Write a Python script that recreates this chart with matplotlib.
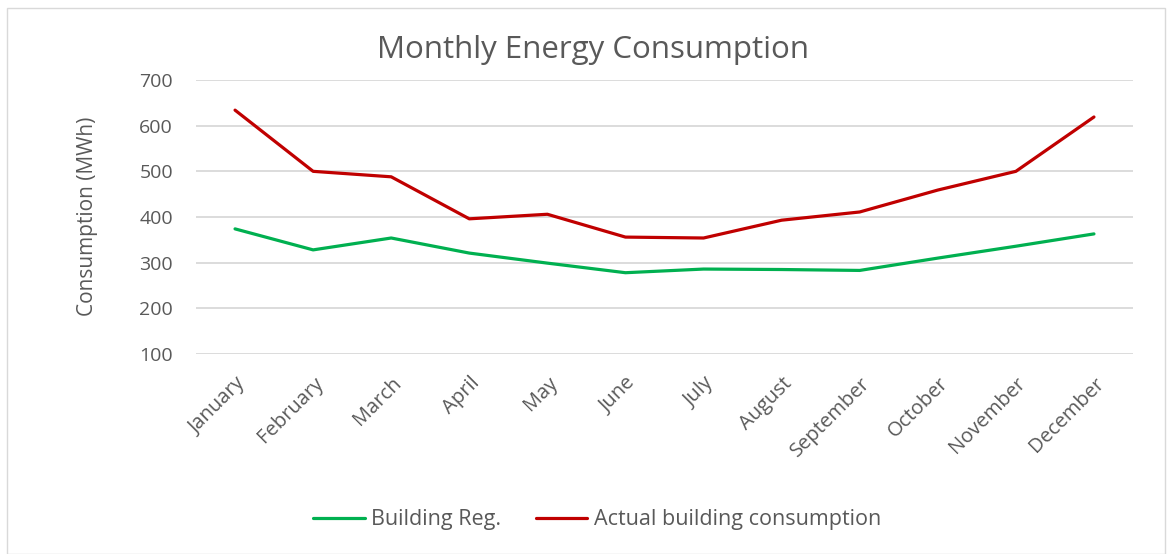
import matplotlib
matplotlib.use("Agg")
import matplotlib.pyplot as plt
from matplotlib.patches import Rectangle

months = ["January", "February", "March", "April", "May", "June", "July",
          "August", "September", "October", "November", "December"]
building_reg = [374, 328, 354, 321, 299, 278, 286, 285, 283, 310, 336, 363]
actual = [634, 500, 488, 396, 406, 356, 354, 393, 411, 459, 500, 619]
yticks = [100, 200, 300, 400, 500, 600, 700]

plt.rcParams['font.family'] = ['Open Sans', 'DejaVu Sans']
txt = '#595959'

fig = plt.figure(figsize=(11.72, 5.54), dpi=100)
fig.add_artist(Rectangle((7/1172, 0), 1158/1172, 1 - 8/554, transform=fig.transFigure,
                         fill=False, edgecolor='#d9d9d9', linewidth=1))
ax = fig.add_axes([196/1172, 1 - 354/554, (1133-196)/1172, (354-80)/554])

x = list(range(len(months)))
ax.plot(x, building_reg, color='#00B050', linewidth=2.3, label='Building Reg.',
        solid_capstyle='round')
ax.plot(x, actual, color='#C00000', linewidth=2.3, label='Actual building consumption',
        solid_capstyle='round')

ax.set_xlim(-0.5, len(months) - 0.5)
ax.set_ylim(100, 700)
ax.set_yticks(yticks)
ax.set_yticklabels([str(v) for v in yticks], fontsize=14, color=txt)
ax.set_xticks(x)
ax.set_xticklabels(months, rotation=45, ha='right', rotation_mode='anchor',
                   fontsize=14.5, color=txt)
for lbl in ax.get_xticklabels():
    lbl.set_x(lbl.get_position()[0])
ax.tick_params(axis='both', length=0)
ax.tick_params(axis='y', pad=16.5)
ax.tick_params(axis='x', pad=14)
ax.grid(axis='y', color='#d9d9d9', linewidth=1.3)
ax.set_axisbelow(True)
for s in ax.spines.values():
    s.set_visible(False)

fig.text(87/1172, 1 - 216/554, 'Consumption (MWh)', fontsize=15, color=txt,
         rotation=90, ha='center', va='center')
fig.text(593/1172, 1 - 50/554, 'Monthly Energy Consumption', fontsize=22.5, color=txt,
         ha='center', va='center')

fig.legend(loc='center', bbox_to_anchor=(597/1172, 1 - 520/554), ncol=2, frameon=False,
           fontsize=15.5, labelcolor=txt, handlelength=2.4, columnspacing=1.6,
           handletextpad=0.3)

fig.savefig('out.png', dpi=100)
